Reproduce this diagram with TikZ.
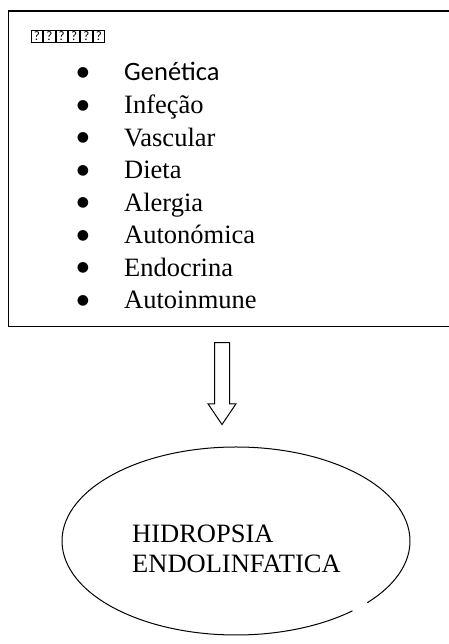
\documentclass[tikz,border=0pt]{standalone}
\usepackage{fontspec}
\setmainfont{Liberation Serif}
\newfontfamily\calibri{Carlito}
\newfontfamily\dejavu{DejaVu Sans}
\usetikzlibrary{positioning}
\usetikzlibrary{shapes.geometric}
\usetikzlibrary{shapes.arrows}
\setlength{\fboxsep}{0.5pt}
\setlength{\fboxrule}{1pt}
\newcommand{\tofu}{\fbox{\makebox[9.4pt]{\rule[-1.5pt]{0pt}{10.5pt}?}}}

\begin{document}
\begin{tikzpicture}
        [x=1pt,y=1pt,
         item/.style={anchor=base west,inner sep=0,font=\fontsize{26.5}{32}\selectfont},
         dot/.style={anchor=base,inner sep=0,font=\dejavu\fontsize{14}{16}\selectfont}]
        \useasboundingbox (0,0) rectangle (448,644);
        \node[draw,line width=1.2pt,anchor=north west,minimum width=600pt,minimum height=315.5pt] (causas) at (8,633.5) {};
        \node[anchor=north west,inner sep=0,font=\calibri\fontsize{13}{15}\selectfont] (tit) at (30.5,614.5) {\tofu\tofu\tofu\tofu\tofu\tofu};

        \foreach \txt [count=\i from 0] in {{\calibri Genética},Infeção,Vascular,Dieta,Alergia,Autonómica,Endocrina,Autoinmune}
        {
          \node[dot]  (b\i) at (83,567.5-32.57*\i) {●};
          \node[item] (c\i) at (124,563-32.57*\i) {\txt};
        }

        \node[single arrow,draw,line width=1pt,rotate=-90,minimum height=82pt,inner xsep=0,inner ysep=7pt,
              single arrow head extend=6.5pt,single arrow tip angle=68] (flecha) at (222,266) {};

        \node[ellipse,minimum width=348pt,minimum height=188pt,inner sep=0] (hid) at (236,103) {};
        \draw[line width=1pt] (hid.center) ++(-41:174 and 94) arc[start angle=-41,end angle=312,x radius=174,y radius=94];
        \node[item] (hid1) at (132,101) {HIDROPSIA};
        \node[item] (hid2) at ([yshift=-30pt]hid1.base west) {ENDOLINFATICA};
\end{tikzpicture}
\end{document}
